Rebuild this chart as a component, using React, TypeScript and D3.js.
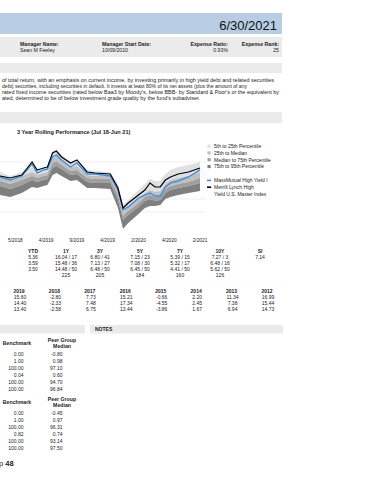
import React from 'react';
import * as d3 from 'd3';

// rolling 3y performance, one value per sampled week
const weeks = [0, 8, 17, 25, 29, 34, 37, 41, 44, 48, 55, 60, 68, 74, 86, 92, 96, 100, 108, 113, 117, 121, 125, 129, 133, 139, 147, 156];
const indexLine = [4.49, 4.27, 4.59, 6.0, 5.14, 5.35, 5.46, 6.97, 7.19, 6.54, 5.89, 6.22, 4.92, 4.81, 4.7, 3.19, 1.03, 1.57, 2.43, 2.97, 3.73, 3.3, 3.3, 4.05, 4.38, 4.7, 4.92, 5.35];
const fundLine = [4.38, 4.05, 4.49, 5.78, 4.81, 5.14, 5.24, 6.54, 6.76, 6.22, 5.46, 5.89, 4.7, 4.7, 4.49, 2.97, 0.81, 1.14, 2.11, 2.43, 2.65, 2.32, 2.32, 3.3, 3.73, 3.95, 4.38, 5.14];
const p5 = [4.92, 4.49, 4.92, 5.46, 5.03, 5.24, 5.46, 7.19, 7.3, 6.76, 6.0, 6.11, 5.14, 5.03, 4.92, 3.62, 1.35, 1.89, 2.97, 3.62, 4.16, 3.95, 3.95, 4.7, 5.14, 5.46, 5.68, 6.0];
const p25 = [4.38, 4.05, 4.49, 4.92, 4.59, 4.81, 4.92, 6.43, 6.65, 6.22, 5.46, 5.57, 4.59, 4.49, 4.49, 2.97, 0.59, 1.14, 2.11, 2.65, 2.97, 2.76, 2.86, 3.62, 4.05, 4.27, 4.49, 4.92];
const p50 = [3.95, 3.62, 4.05, 4.49, 4.27, 4.49, 4.59, 5.89, 6.11, 5.68, 5.03, 5.14, 4.27, 4.16, 4.16, 2.43, 0.16, 0.7, 1.57, 2.22, 2.43, 2.22, 2.32, 3.08, 3.41, 3.62, 3.84, 4.27];
const p75 = [3.41, 3.08, 3.51, 4.05, 3.84, 4.05, 4.16, 5.35, 5.57, 5.24, 4.59, 4.7, 3.84, 3.73, 3.73, 1.89, -0.27, 0.27, 1.14, 1.78, 2.0, 1.78, 1.89, 2.65, 2.97, 3.19, 3.41, 3.73];
const p95 = [2.43, 2.22, 2.65, 3.3, 3.19, 3.41, 3.51, 4.59, 4.81, 4.49, 3.95, 4.05, 3.19, 3.19, 3.08, 1.03, -1.24, -0.59, 0.38, 1.03, 1.24, 1.24, 1.35, 2.0, 2.22, 2.43, 2.65, 2.86];
const gridValues = [6, 2, 0.6];

const xTickWeeks = [12, 36, 60, 84, 108, 132, 156];
const xTickLabels = ['5/2018', '4/2019', '9/2019', '4/2019', '2/2020', '4/2020', '2/2021'];

const bandLabels = ['5th to 25th Percentile', '25th to Median', 'Median to 75th Percentile', '75th to 95th Percentile'];
const bandColors = ['#e0e0e0', '#c0c0c0', '#9f9f9f', '#7f7f7f'];

const trailingHeaders = ['YTD', '1Y', '3Y', '5Y', '7Y', '10Y', 'SI'];
const trailingFund = ['5.36', '16.04 / 17', '6.80 / 41', '7.15 / 23', '5.39 / 15', '7.27 / 3', '7.14'];
const trailingIndex = ['3.59', '15.48 / 36', '7.13 / 27', '7.08 / 30', '5.32 / 17', '6.48 / 16', ''];
const trailingPeer = ['3.50', '14.48 / 50', '6.48 / 50', '6.45 / 50', '4.41 / 50', '5.62 / 50', ''];
const trailingCount = ['', '225', '205', '184', '160', '126', ''];

const years = ['2019', '2018', '2017', '2016', '2015', '2014', '2013', '2012'];
const yearFund = ['15.60', '-2.80', '7.73', '15.21', '-0.66', '2.20', '11.34', '16.99'];
const yearIndex = ['14.40', '-2.33', '7.48', '17.34', '-4.55', '2.45', '7.38', '15.44'];
const yearPeer = ['13.40', '-2.58', '6.75', '13.44', '-3.86', '1.67', '6.94', '14.73'];

const riskBench1 = ['0.00', '1.00', '100.00', '0.04', '100.00', '100.00'];
const riskPeer1 = ['-0.80', '0.98', '97.10', '0.60', '94.70', '96.84'];
const riskBench2 = ['0.00', '1.00', '100.00', '0.82', '100.00', '100.00'];
const riskPeer2 = ['-0.45', '0.97', '96.31', '0.74', '93.14', '97.50'];

const objective = [
  'of total return, with an emphasis on current income, by investing primarily in high yield debt and related securities',
  'debt) securities, including securities in default. It invests at least 80% of its net assets (plus the amount of any',
  'rated fixed income securities (rated below Baa3 by Moody\'s, below BBB- by Standard & Poor\'s or the equivalent by',
  'ated, determined to be of below investment grade quality by the fund\'s subadviser.',
];
const objectiveWidths = [272, 245, 277, 198];

const FONT = '"Liberation Sans", Arial, Helvetica, sans-serif';
const BLUE = '#3f8fe0';

export default function App() {
  const x = d3.scaleLinear().domain([0, 156]).range([0, 200]);
  const y = d3.scaleLinear().domain([-2, 10]).range([236, 125]);

  const bands = [p5, p25, p50, p75, p95];
  const areas = bandColors.map((c, i) => {
    const gen = d3.area<number>()
      .x((_, j) => x(weeks[j]))
      .y0((_, j) => y(bands[i + 1][j]))
      .y1((_, j) => y(bands[i][j]))
      .curve(d3.curveLinear);
    return gen(weeks) || '';
  });
  const line = (vals: number[]) => d3.line<number>()
    .x((_, j) => x(weeks[j]))
    .y((_, j) => y(vals[j]))(weeks) || '';

  const colX = [33, 66, 100, 140, 180, 220, 260];
  const yearX = d3.scalePoint<string>().domain(years).range([19, 267]);
  const rowY = d3.scaleLinear().domain([0, 1]).range([0, 6]);

  const t = (props: any, s: string, key?: any) => (
    <text key={key} fontFamily={FONT} fill="#222" {...props}>{s}</text>
  );

  return (
    <svg width={370} height={480} style={{ position: 'absolute', left: 0, top: 0 }}>
      <rect x={0} y={0} width={370} height={480} fill="#fff" />
      {/* header */}
      <rect x={0} y={13} width={282} height={21} fill="#b8cde4" />
      {t({ x: 277, y: 30, fontSize: 13, textAnchor: 'end', fill: '#111' }, '6/30/2021')}
      <rect x={0} y={37} width={282} height={20} fill="#ebebeb" />
      {t({ x: 20, y: 45.5, fontSize: 5.2, fontWeight: 'bold' }, 'Manager Name:')}
      {t({ x: 20, y: 52, fontSize: 5.2 }, 'Sean M Feeley')}
      {t({ x: 102, y: 45.5, fontSize: 5.2, fontWeight: 'bold' }, 'Manager Start Date:')}
      {t({ x: 102, y: 52, fontSize: 5.2 }, '10/09/2010')}
      {t({ x: 228, y: 45.5, fontSize: 5.2, fontWeight: 'bold', textAnchor: 'end' }, 'Expense Ratio:')}
      {t({ x: 228, y: 52, fontSize: 5.2, textAnchor: 'end' }, '0.93%')}
      {t({ x: 279, y: 45.5, fontSize: 5.2, fontWeight: 'bold', textAnchor: 'end' }, 'Expense Rank:')}
      {t({ x: 279, y: 52, fontSize: 5.2, textAnchor: 'end' }, '25')}
      <rect x={0} y={63} width={282} height={10} fill="#ebebeb" />
      {objective.map((s, i) => t({ x: 2, y: 81.5 + i * 6.3, fontSize: 5, textLength: objectiveWidths[i], lengthAdjust: 'spacingAndGlyphs' }, s, 'o' + i))}
      <rect x={0} y={112} width={282} height={11} fill="#ebebeb" />

      {/* chart */}
      {t({ x: 17, y: 134, fontSize: 5.6, fontWeight: 'bold' }, '3 Year Rolling Performance (Jul 18-Jun 21)')}
      {gridValues.map(v => (
        <line key={v} x1={0} x2={206} y1={y(v)} y2={y(v)} stroke="#e4e4e4" strokeWidth={0.6} />
      ))}
      {areas.map((d, i) => <path key={i} d={d} fill={bandColors[i]} />)}
      <path d={line(fundLine)} fill="none" stroke={BLUE} strokeWidth={1.4} />
      <path d={line(indexLine)} fill="none" stroke="#000" strokeWidth={1.2} />
      {xTickWeeks.map((w, i) => t({ x: x(w), y: 242, fontSize: 4.8, textAnchor: 'middle' }, xTickLabels[i], 'xt' + i))}

      {/* legend */}
      {bandLabels.map((s, i) => (
        <g key={s}>
          <rect x={207.5} y={144.5 + i * 6.8} width={3.2} height={3.2} fill={bandColors[i]} />
          {t({ x: 214, y: 148 + i * 6.8, fontSize: 5 }, s)}
        </g>
      ))}
      <rect x={207} y={179.6} width={4.2} height={1.6} fill={BLUE} />
      {t({ x: 214, y: 182, fontSize: 5 }, 'MassMutual High Yield I')}
      <rect x={207} y={186.4} width={4.2} height={1.6} fill="#000" />
      {t({ x: 214, y: 189, fontSize: 5 }, 'Merrill Lynch High')}
      {t({ x: 214, y: 195.5, fontSize: 5 }, 'Yield U.S. Master Index')}

      {/* trailing returns */}
      {trailingHeaders.map((h, i) => (
        <g key={h}>
          {t({ x: colX[i], y: 252.5, fontSize: 5, fontWeight: 'bold', textAnchor: 'middle' }, h)}
          {[trailingFund, trailingIndex, trailingPeer, trailingCount].map((row, r) =>
            t({ x: colX[i], y: 258.5 + rowY(r), fontSize: 5, textAnchor: 'middle' }, row[i], 'r' + r))}
        </g>
      ))}
      <line x1={0} x2={282} y1={283} y2={283} stroke="#eeeeee" strokeWidth={0.6} strokeDasharray="1,1" />

      {/* calendar years */}
      {years.map((yr, i) => (
        <g key={yr}>
          {t({ x: yearX(yr), y: 292.5, fontSize: 5, fontWeight: 'bold', textAnchor: 'middle' }, yr)}
          {[yearFund, yearIndex, yearPeer].map((row, r) =>
            t({ x: (yearX(yr) || 0) + 1, y: 298.5 + rowY(r), fontSize: 5, textAnchor: 'middle' }, row[i], 'y' + r))}
        </g>
      ))}

      <rect x={0} y={325} width={85} height={8.5} fill="#ebebeb" />
      <rect x={90} y={325} width={193} height={8.5} fill="#ebebeb" />
      {t({ x: 95, y: 331, fontSize: 5, fontWeight: 'bold' }, 'NOTES')}

      {/* risk tables */}
      {[[riskBench1, riskPeer1, 340], [riskBench2, riskPeer2, 399]].map(([b, p, top]: any, k) => (
        <g key={k}>
          {t({ x: 17, y: top + 5, fontSize: 5.2, fontWeight: 'bold', textAnchor: 'middle' }, 'Benchmark')}
          {t({ x: 62, y: top + 1.8, fontSize: 5.2, fontWeight: 'bold', textAnchor: 'middle' }, 'Peer Group')}
          {t({ x: 62, y: top + 8, fontSize: 5.2, fontWeight: 'bold', textAnchor: 'middle' }, 'Median')}
          {(b as string[]).map((v, i) => t({ x: 23.5, y: top + 15.5 + i * 7, fontSize: 5, textAnchor: 'end' }, v, 'b' + i))}
          {(p as string[]).map((v, i) => t({ x: 62.5, y: top + 15.5 + i * 7, fontSize: 5, textAnchor: 'end' }, v, 'p' + i))}
        </g>
      ))}

      <text x={-1} y={466} fontFamily={FONT} fontSize={7.5} fill="#222">p <tspan fontWeight="bold">48</tspan></text>
    </svg>
  );
}
